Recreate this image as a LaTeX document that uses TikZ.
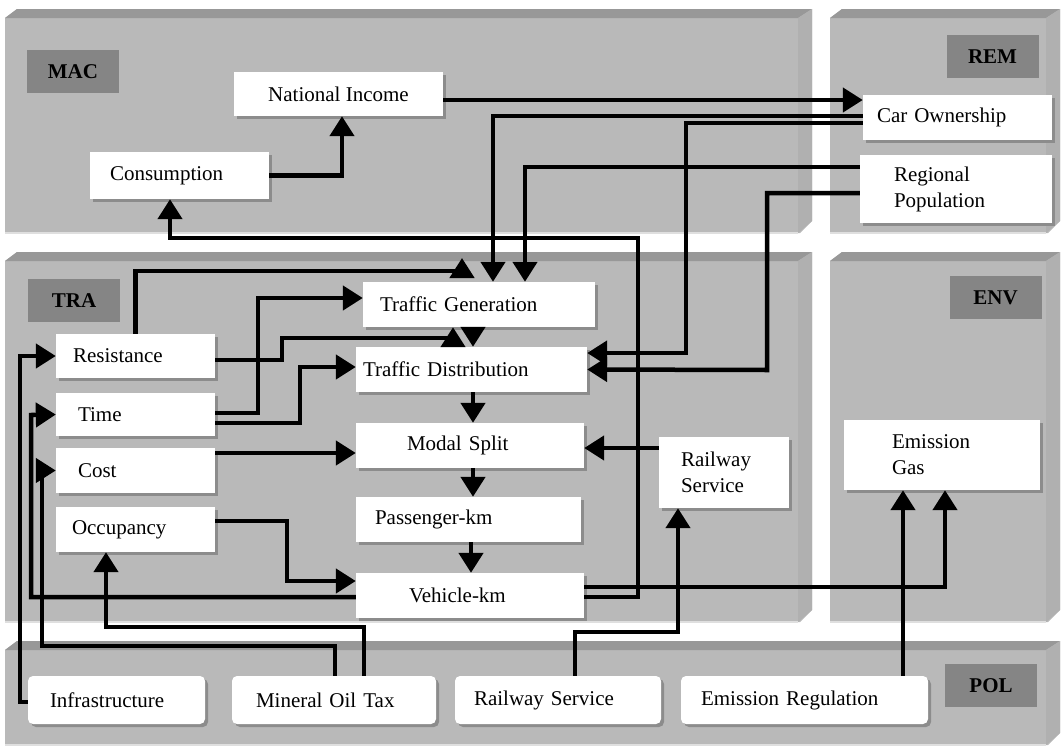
\documentclass[tikz,border=0pt]{standalone}
\usepackage{fontspec}
\setmainfont{Liberation Serif}
\usetikzlibrary{arrows.meta,shadows}
\definecolor{pnl}{RGB}{185,185,185}
\definecolor{pnltop}{RGB}{152,152,152}
\definecolor{pnlside}{RGB}{176,176,176}
\definecolor{tagc}{RGB}{133,133,133}
\definecolor{shd}{RGB}{140,140,140}
\begin{document}
\begin{tikzpicture}[x=1pt,y=-1pt,font=\fontsize{21}{26}\selectfont,
	box/.style={fill=white,inner ysep=0pt,align=left,drop shadow={shadow xshift=3pt,shadow yshift=-3pt,fill=shd,opacity=1}},
	pbox/.style={box,rounded corners=5pt,minimum height=48},
	tag/.style={fill=tagc,font=\fontsize{21}{26}\selectfont\bfseries,inner sep=0pt,minimum width=92,minimum height=43},
	ar/.style={line width=4.5pt,-{Triangle[length=20pt,width=24pt]}}]
	\useasboundingbox (0,0) rectangle (1062,747);
	% panels
	\foreach \xa/\ya/\xb/\yb in {5/9/812/233,830/9/1060/233,5/252/812/622,830/252/1060/622,5/641/1060/745}{
		\fill[pnl] (\xa,\ya+9) -- (\xa+12,\ya) -- (\xb,\ya) -- (\xb,\yb-12) -- (\xb-12,\yb) -- (\xa,\yb) -- cycle;
		\fill[pnltop] (\xa,\ya+9) -- (\xa+12,\ya) -- (\xb,\ya) -- (\xb-14,\ya+9) -- cycle;
		\fill[pnlside] (\xb-14,\ya+9) -- (\xb,\ya) -- (\xb,\yb-12) -- (\xb-14,\yb) -- cycle;
		\draw[gray!25,line width=1.5pt] (\xa,\yb) -- (\xb-14,\yb);
	}
	\node[tag] (mac) at (73,71.5) {MAC};
	\node[tag] (rem) at (992.5,56.5) {REM};
	\node[tag] (tra) at (74,300.5) {TRA};
	\node[tag] (env) at (995.5,297.5) {ENV};
	\node[tag] (pol) at (991,685.5) {POL};
	% MAC and REM
	\node[box,align=center,minimum width=209,minimum height=44] (ni) at (338.5,94) {National Income};
	\node[box,text width=139,inner xsep=20,minimum height=47] (cons) at (179.5,175.5) {Consumption};
	\node[box,text width=161,inner xsep=14,minimum height=45] (co) at (957.5,117.5) {Car Ownership};
	\node[box,text width=124,inner xsep=34,minimum height=68] (rp) at (956,189) {Regional\\Population};
	% TRA
	\node[box,text width=198,inner xsep=17,minimum height=45] (tg) at (479,304.5) {Traffic Generation};
	\node[box,text width=217,inner xsep=7,minimum height=45] (td) at (471.5,369.5) {Traffic Distribution};
	\node[box,text width=126,inner xsep=51,minimum height=45] (ms) at (470,445.5) {Modal Split};
	\node[box,text width=187,inner xsep=19,minimum height=45] (pk) at (468.5,519.5) {Passenger-km};
	\node[box,text width=122,inner xsep=53,minimum height=45] (vk) at (470,595.5) {Vehicle-km};
	\node[box,text width=125,inner xsep=17,minimum height=44] (res) at (135.5,356) {Resistance};
	\node[box,text width=115,inner xsep=22,minimum height=43] (tim) at (135.5,414.5) {Time};
	\node[box,text width=115,inner xsep=22,minimum height=45] (cost) at (135.5,470.5) {Cost};
	\node[box,text width=127,inner xsep=16,minimum height=45] (occ) at (135.5,529.5) {Occupancy};
	\node[box,text width=86,inner xsep=22,minimum height=71] (rst) at (724,472.5) {Railway\\Service};
	% ENV
	\node[box,text width=100,inner xsep=48,minimum height=70] (eg) at (942,455) {Emission\\Gas};
	% POL
	\node[pbox,text width=133,inner xsep=22] (infra) at (116.5,700) {Infrastructure};
	\node[pbox,text width=156,inner xsep=24] (mot) at (334,700) {Mineral Oil Tax};
	\node[pbox,text width=168,inner xsep=19] (rsp) at (558,700) {Railway Service};
	\node[pbox,text width=207,inner xsep=20] (er) at (804.5,700) {Emission Regulation};
	% links
	\draw[ar] (cons.east) -| ([xshift=3.5]ni.south);
	\draw[ar] ([yshift=-6]ni.east) -- ([yshift=17.5]co.west);
	\draw[ar] ([yshift=1.5]co.west) -| ([xshift=14]tg.north);
	\draw[ar] ([yshift=-5.5]co.west) -| (686,353) -- ([yshift=16.5]td.east);
	\draw[ar] ([yshift=22]rp.west) -| ([xshift=46]tg.north);
	\draw[ar] ([yshift=-4]rp.west) -| (767,370) -- (td.east);
	\draw[ar] ([yshift=-1.5]vk.east) -| (638,238) -| ([xshift=-9.5]cons.south);
	\draw[ar] ([yshift=8.5]vk.east) -| ([xshift=3]eg.south);
	\draw[ar] ([xshift=98.5]er.north) -- ([xshift=-39]eg.south);
	\draw[ar] ([xshift=17]rsp.north) |- (678,632) -- ([xshift=-46]rst.south);
	\draw[ar] ([yshift=24.5]rst.west) -- ([yshift=-2.5]ms.east);
	\draw[ar] ([xshift=-6]tg.south) -- ([xshift=1.5]td.north);
	\draw[ar] ([xshift=1.5]td.south) -- ([xshift=3]ms.north);
	\draw[ar] ([xshift=3]ms.south) -- ([xshift=4.5]pk.north);
	\draw[ar] ([xshift=2.5]pk.south) -- ([xshift=1]vk.north);
	\draw[ar] (res.north) |- (462,271) -- (462,258);
	\draw[ar] ([yshift=-4]res.east) -| (282,338) -| ([xshift=-26]tg.south);
	\draw[ar] ([yshift=1.5]tim.east) -| (258,298) -- ([yshift=6.5]tg.west);
	\draw[ar] ([yshift=-8.5]tim.east) -| (300,367) -- ([yshift=2.5]td.west);
	\draw[ar] ([yshift=17.5]cost.east) -- ([yshift=-7.5]ms.west);
	\draw[ar] ([yshift=8.5]occ.east) -| (287,581) -- ([yshift=14.5]vk.west);
	\draw[ar] ([yshift=-1.5]vk.west) -| (31,415) -- (tim.west);
	\draw[ar] ([yshift=-2]infra.west) -| (20,356) -- (res.west);
	\draw[ar] ([xshift=1]mot.north) |- (42,646) |- (cost.west);
	\draw[ar] ([xshift=30]mot.north) |- (106,627) -- ([xshift=-29.5]occ.south);
\end{tikzpicture}
\end{document}
